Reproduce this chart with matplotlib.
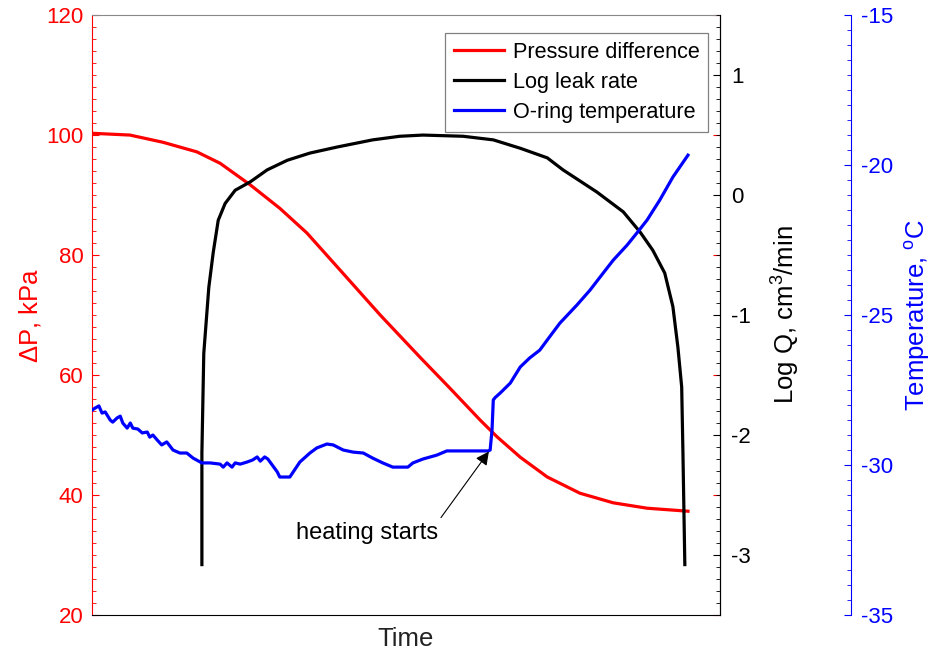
import numpy as np
import matplotlib
matplotlib.use("Agg")
import matplotlib.pyplot as plt
from matplotlib.ticker import MultipleLocator

plt.rcParams['font.family'] = ['Liberation Sans', 'DejaVu Sans']
plt.rcParams['mathtext.fontset'] = 'custom'
plt.rcParams['mathtext.rm'] = 'Liberation Sans'
plt.rcParams['mathtext.it'] = 'Liberation Sans:italic'
plt.rcParams['axes.unicode_minus'] = False

# Pressure difference (kPa) vs time (arbitrary units 0-100)
t_p = [0, 6.05, 11.3, 16.7, 20.4, 25.2, 29.9, 34.2, 39.5, 45.9, 52.2, 57.0,
       61.8, 64.5, 68.2, 72.5, 77.7, 83.0, 88.4, 94.9]
dp = [100.3, 100.0, 98.8, 97.2, 95.3, 91.7, 87.8, 83.7, 77.5, 70.0, 63.0, 57.8,
      52.5, 49.7, 46.3, 43.0, 40.3, 38.7, 37.8, 37.3]

# Log leak rate (log cm3/min)
t_q = [17.5, 17.5, 17.8, 18.6, 19.3, 20.1, 21.2, 22.8, 25.2, 27.9, 31.1, 34.7,
       39.0, 44.7, 49.0, 52.7, 59.1, 63.9, 68.2, 72.5, 75.0, 80.4, 84.6, 87.3,
       89.3, 91.2, 92.5, 93.3, 93.9, 94.1, 94.4]
logq = [-3.08, -2.15, -1.32, -0.77, -0.48, -0.21, -0.07, 0.04, 0.11, 0.21, 0.29,
        0.35, 0.40, 0.46, 0.49, 0.50, 0.49, 0.46, 0.39, 0.31, 0.21, 0.025, -0.14,
        -0.31, -0.46, -0.65, -0.93, -1.27, -1.60, -2.15, -3.08]

# O-ring temperature (deg C)
t_t = [0, 0.5, 1.1, 1.6, 2.1, 2.9, 3.3, 4.0, 4.5, 4.9, 5.6, 6.1, 6.5, 7.3, 8.0,
       8.8, 9.2, 9.7, 10.4, 11.1, 11.9, 12.9, 14.0, 15.1, 16.1, 17.5, 18.8, 20.4,
       20.9, 21.5, 22.3, 22.8, 23.6, 24.7, 25.6, 26.3, 26.8, 27.5, 28.0, 28.7,
       29.5, 29.9, 31.5, 33.1, 34.7, 35.8, 37.4, 38.4, 40.0, 41.6, 43.2, 44.7,
       46.3, 47.9, 50.3, 51.1, 52.7, 54.9, 56.5, 63.1, 63.4, 63.7, 63.9, 64.2,
       65.0, 66.6, 68.2, 69.7, 71.3, 72.5, 74.5, 77.2, 79.3, 81.4, 83.0, 85.2,
       86.9, 88.4, 90.4, 92.5, 94.9]
temp = [-28.17, -28.1, -28.03, -28.27, -28.23, -28.5, -28.57, -28.43, -28.37,
        -28.6, -28.77, -28.6, -28.77, -28.8, -28.93, -28.9, -29.07, -29.0, -29.17,
        -29.33, -29.23, -29.5, -29.6, -29.6, -29.77, -29.93, -29.93, -29.97,
        -30.07, -29.93, -30.07, -29.93, -29.97, -29.9, -29.83, -29.73, -29.87,
        -29.73, -29.8, -30.0, -30.23, -30.4, -30.4, -29.9, -29.6, -29.43, -29.3,
        -29.33, -29.5, -29.57, -29.6, -29.77, -29.93, -30.07, -30.07, -29.93,
        -29.8, -29.67, -29.53, -29.53, -29.5, -28.83, -27.83, -27.75, -27.6,
        -27.27, -26.73, -26.43, -26.17, -25.83, -25.27, -24.67, -24.17, -23.6,
        -23.17, -22.67, -22.23, -21.83, -21.17, -20.4, -19.67]

RED = (1, 0, 0)
BLUE = (0, 0, 1)

fig = plt.figure(figsize=(9.33, 6.56), dpi=100)
ax1 = fig.add_axes([0.0986, 0.0625, 0.6731, 0.9145])
ax2 = ax1.twinx()
ax3 = ax1.twinx()

l1, = ax1.plot(t_p, dp, color=RED, lw=2.3, label='Pressure difference')
l2, = ax2.plot(t_q, logq, color='k', lw=2.3, label='Log leak rate')
l3, = ax3.plot(t_t, temp, color=BLUE, lw=2.3, label='O-ring temperature')

ax1.set_xlim(0, 100)
ax1.set_ylim(20, 120)
ax2.set_ylim(-3.5, 1.5)
ax3.set_ylim(-35, -15)

# left axis
ax1.yaxis.set_major_locator(MultipleLocator(20))
ax1.yaxis.set_minor_locator(MultipleLocator(2))
ax1.tick_params(axis='y', which='both', direction='in', colors=RED,
                labelsize=16, pad=6)
ax1.tick_params(axis='y', which='major', length=5, right=True, labelright=False)
ax1.tick_params(axis='y', which='minor', length=3, right=False)
ax1.set_xticks([])
ax1.spines['left'].set_color(RED)
ax1.spines['top'].set_color('#888888')
ax1.spines['right'].set_color('k')
ax1.set_ylabel(r'$\Delta$P, kPa', color=RED, fontsize=18.5)
ax1.yaxis.set_label_coords(-0.078, 0.5)
ax1.set_xlabel('Time', fontsize=18.5, color='#222222')
ax1.xaxis.set_label_coords(0.5, -0.02)

# log Q axis
ax2.yaxis.set_major_locator(MultipleLocator(1))
ax2.yaxis.set_minor_locator(MultipleLocator(0.1))
ax2.tick_params(axis='y', which='both', direction='in', colors='k',
                labelsize=16, pad=8)
ax2.tick_params(axis='y', which='major', length=5)
ax2.tick_params(axis='y', which='minor', length=3)
ax2.set_ylabel(r'Log Q, cm$^3$/min', fontsize=18.5)
ax2.yaxis.set_label_coords(1.08, 0.5)
for s in ['top', 'left', 'bottom']:
    ax2.spines[s].set_visible(False)

# temperature axis
ax3.spines['right'].set_position(('axes', 1.2086))
ax3.spines['right'].set_color(BLUE)
for s in ['top', 'left', 'bottom']:
    ax3.spines[s].set_visible(False)
ax3.yaxis.set_major_locator(MultipleLocator(5))
ax3.yaxis.set_minor_locator(MultipleLocator(0.5))
ax3.tick_params(axis='y', which='both', direction='in', colors=BLUE,
                labelsize=16, pad=7)
ax3.tick_params(axis='y', which='major', length=5)
ax3.tick_params(axis='y', which='minor', length=3)
ax3.set_ylabel(r'Temperature, $^{\rm o}$C', color=BLUE, fontsize=18.5)
ax3.yaxis.set_label_coords(1.292, 0.5)

ax3.annotate('heating starts', xy=(63.2, -29.55), xytext=(43.8, -32.25),
             ha='center', va='center', fontsize=17,
             arrowprops=dict(arrowstyle='-|>', color='k', lw=0.8,
                             mutation_scale=20, relpos=(1.0, 1.0),
                             shrinkA=1, shrinkB=0))

leg = ax3.legend(handles=[l1, l2, l3], loc='upper right',
                 bbox_to_anchor=(0.981, 0.97), borderaxespad=0,
                 fontsize=15.6, fancybox=False,
                 framealpha=1, edgecolor='#808080', handlelength=2.3,
                 handletextpad=0.4, labelspacing=0.42, borderpad=0.4)
leg.get_frame().set_linewidth(0.9)

fig.savefig('out.png', dpi=100)
